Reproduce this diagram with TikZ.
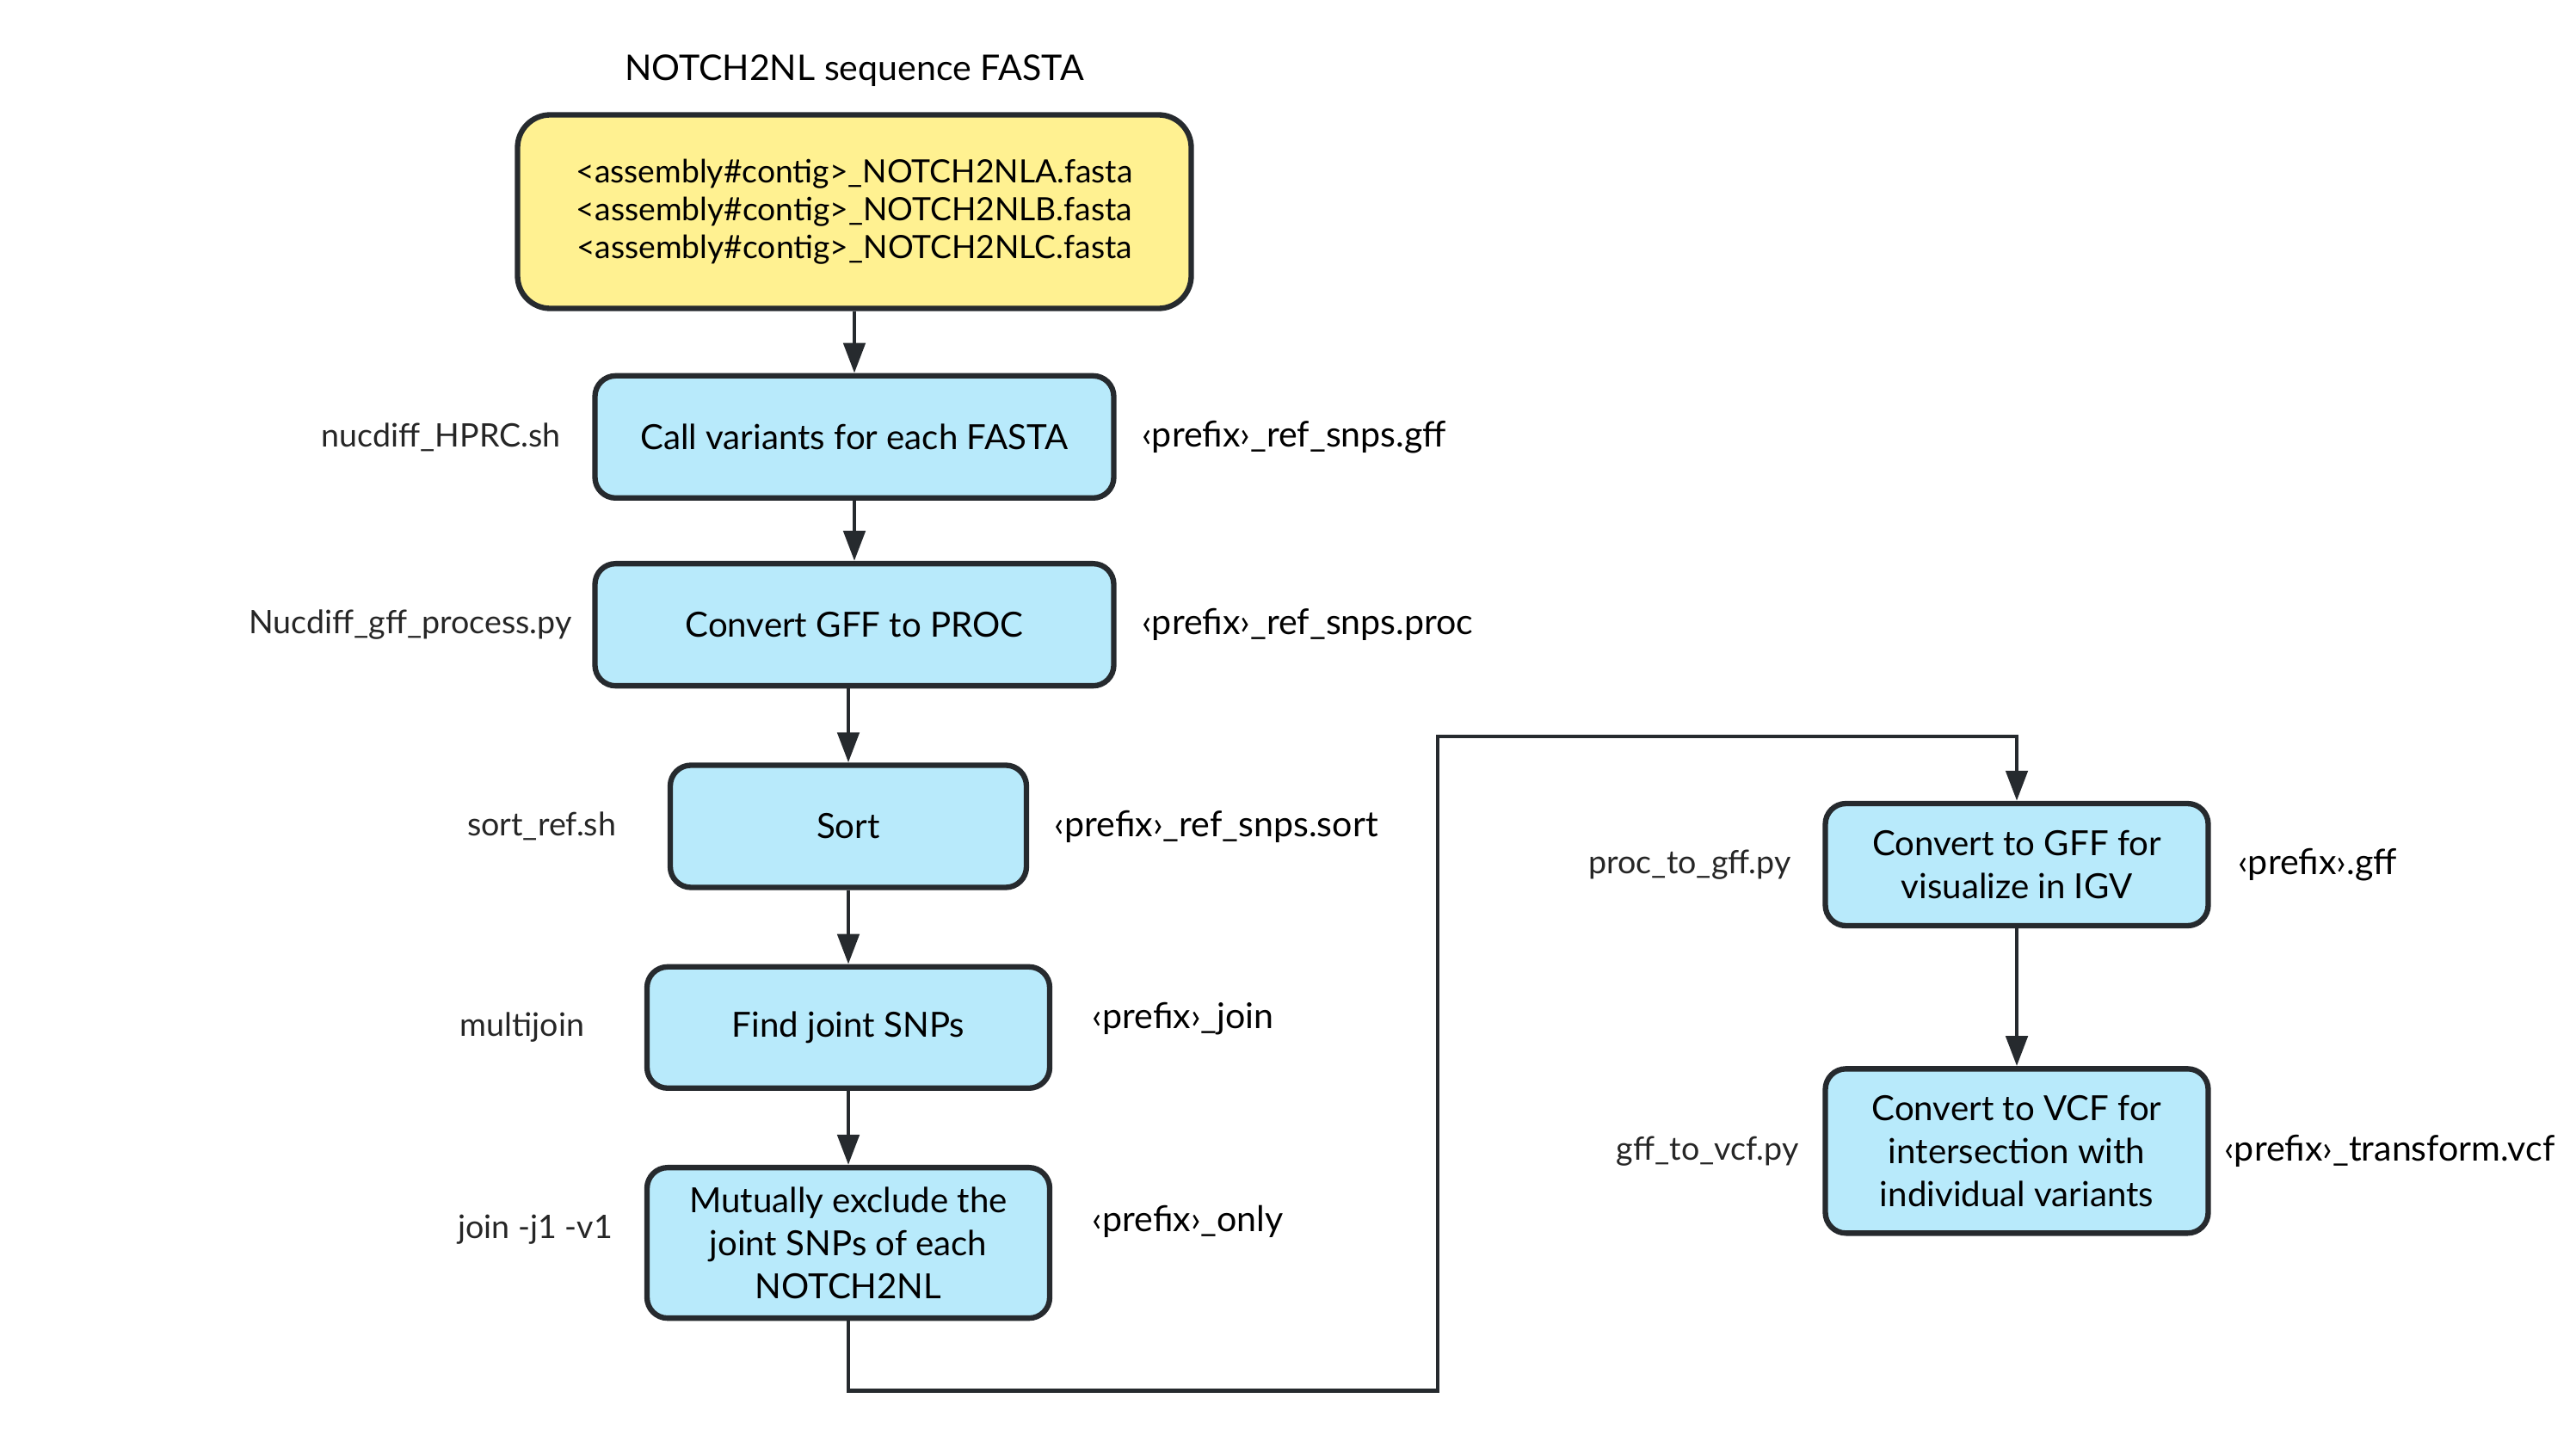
\documentclass[tikz,border=0pt]{standalone}
\usepackage{fontspec}
\setmainfont{Lato}
\usepackage{tikz}
\usetikzlibrary{arrows.meta,positioning}

\definecolor{ink}{RGB}{38,42,46}
\definecolor{fastafill}{RGB}{255,241,145}
\definecolor{procfill}{RGB}{184,234,251}

\begin{document}
\begin{tikzpicture}[
  font=\fontsize{11.45}{14.2}\selectfont,
  node distance=0.86cm and 0.3cm,
  fastabox/.style={draw=ink,line width=1.8pt,rounded corners=0.38cm,fill=fastafill,align=center,minimum width=7.83cm,minimum height=2.25cm,font=\fontsize{10.6}{12.5}\selectfont},
  proc/.style={draw=ink,line width=1.8pt,rounded corners=0.24cm,fill=procfill,align=center,minimum height=1.42cm},
  tool/.style={inner sep=0pt,font=\fontsize{10.7}{13}\selectfont,text=black!85},
  outfile/.style={inner sep=0pt,font=\fontsize{11.7}{14}\selectfont},
  arr/.style={-{Triangle[length=3.5mm,width=2.5mm]},draw=ink,line width=1.4pt}
]
  \useasboundingbox (0,0) rectangle (29.94,-16.60);

  \node[fastabox] at (9.93,-2.46) (fasta) {<assembly\#contig>\_NOTCH2NLA.fasta\\<assembly\#contig>\_NOTCH2NLB.fasta\\<assembly\#contig>\_NOTCH2NLC.fasta};
  \node[outfile,above=0.29cm of fasta] (title) {NOTCH2NL sequence FASTA};

  \node[proc,minimum width=6.03cm,below=0.72cm of fasta] (call) {Call variants for each FASTA};
  \node[proc,minimum width=6.03cm,below=0.70cm of call] (conv) {Convert GFF to PROC};
  \node[proc,minimum width=4.14cm,below=of conv,xshift=-0.07cm] (sort) {Sort};
  \node[proc,minimum width=4.68cm,minimum height=1.41cm,below=of sort] (join) {Find joint SNPs};
  \node[proc,minimum width=4.68cm,minimum height=1.75cm,below=of join] (excl) {Mutually exclude the\\joint SNPs of each\\NOTCH2NL};

  \node[proc,minimum width=4.45cm] at (23.44,-10.05) (gff) {Convert to GFF for\\visualize in IGV};
  \node[proc,minimum width=4.45cm,minimum height=1.91cm,below=1.60cm of gff] (vcf) {Convert to VCF for\\intersection with\\individual variants};

  \node[tool,left=0.36cm of call] (calltool) {nucdiff\_HPRC.sh};
  \node[tool,left=0.23cm of conv] (convtool) {Nucdiff\_gff\_process.py};
  \node[tool,left=0.59cm of sort] (sorttool) {sort\_ref.sh};
  \node[tool,left=0.69cm of join] (jointool) {multijoin};
  \node[tool,left=0.36cm of excl,yshift=0.15cm] (excltool) {join -j1 -v1};
  \node[tool,left=0.36cm of gff] (gfftool) {proc\_to\_gff.py};
  \node[tool,left=0.27cm of vcf] (vcftool) {gff\_to\_vcf.py};

  \node[outfile,right=0.29cm of call] (callout) {‹prefix›\_ref\_snps.gff};
  \node[outfile,right=0.29cm of conv] (convout) {‹prefix›\_ref\_snps.proc};
  \node[outfile,right=0.29cm of sort] (sortout) {‹prefix›\_ref\_snps.sort};
  \node[outfile,right=0.46cm of join,yshift=0.1cm] (joinout) {‹prefix›\_join};
  \node[outfile,right=0.46cm of excl,yshift=0.25cm] (exclout) {‹prefix›\_only};
  \node[outfile,right=0.31cm of gff] (gffout) {‹prefix›.gff};
  \node[outfile,right=0.15cm of vcf] (vcfout) {‹prefix›\_transform.vcf};

  \coordinate (bend) at (16.71,-8.56);

  \draw[arr] (fasta) -- (call);
  \draw[arr] (call) -- (conv);
  \draw[arr] (sort.north |- conv.south) -- (sort.north);
  \draw[arr] (sort) -- (join);
  \draw[arr] (join) -- (excl);
  \draw[arr] (excl.south) -- ++(0,-0.81) -| (bend) -| (gff.north);
  \draw[arr] (gff) -- (vcf);
\end{tikzpicture}
\end{document}
